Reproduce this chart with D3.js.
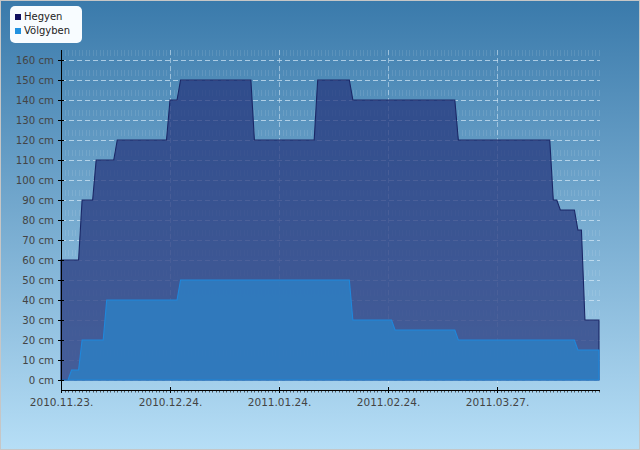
<!DOCTYPE html>
<html lang="hu">
<head>
<meta charset="utf-8">
<title>Hóvastagság</title>
<script src="https://cdn.jsdelivr.net/npm/d3@7"></script>
<style>
  body { margin: 0; }
  text { font-family: "DejaVu Sans", sans-serif; }
</style>
</head>
<body>
<div id="chart"></div>
<script>
// snow depth, cm - corner points
var hegyenDates = ["2010-11-23","2010-11-28","2010-11-29","2010-12-02","2010-12-03","2010-12-08","2010-12-09",
  "2010-12-23","2010-12-24","2010-12-26","2010-12-27","2011-01-16","2011-01-17","2011-02-03","2011-02-04",
  "2011-02-13","2011-02-14","2011-03-15","2011-03-16","2011-04-11","2011-04-12","2011-04-13","2011-04-14",
  "2011-04-18","2011-04-19","2011-04-20","2011-04-21","2011-04-25"]
var hegyenValues = [60,60,90,90,110,110,120,120,140,140,150,150,120,120,150,150,140,140,120,120,90,90,85,85,75,75,30,30]

var volgybenDates = ["2010-11-23","2010-11-25","2010-11-26","2010-11-28","2010-11-29","2010-12-05","2010-12-06",
  "2010-12-26","2010-12-27","2011-02-13","2011-02-14","2011-02-25","2011-02-26","2011-03-15","2011-03-16",
  "2011-04-18","2011-04-19","2011-04-25"]
var volgybenValues = [0,0,5,5,20,20,40,40,50,50,30,30,25,25,20,20,15,15]

var xTickDates = ["2010-11-23","2010-12-24","2011-01-24","2011-02-24","2011-03-27"]
var yTicks = [0,10,20,30,40,50,60,70,80,90,100,110,120,130,140,150,160]
var seriesNames = ["Hegyen","Völgyben"]

var parse = d3.utcParse("%Y-%m-%d")
var W = 640, H = 450

function toPoints(dates, values){
  return dates.map(function(d,i){ return {date: parse(d), value: values[i]} })
}
var hegyen = toPoints(hegyenDates, hegyenValues)
var volgyben = toPoints(volgybenDates, volgybenValues)

var x = d3.scaleUtc().domain([parse("2010-11-23"), parse("2011-04-25")]).range([61, 599])
var y = d3.scaleLinear().domain([-5, 165]).range([390, 50])

var svg = d3.select("#chart").append("svg").attr("width", W).attr("height", H)

var grad = svg.append("defs").append("linearGradient")
  .attr("id","bg").attr("x1",0).attr("y1",0).attr("x2",0).attr("y2",1)
grad.append("stop").attr("offset","0%").attr("stop-color","#3a7aab")
grad.append("stop").attr("offset","100%").attr("stop-color","#b6def6")

svg.append("rect").attr("x",0.5).attr("y",0.5).attr("width",W-1).attr("height",H-1)
  .attr("fill","url(#bg)").attr("stroke","#c6c6c6")

// faint daily grid
var days = d3.utcDay.range(x.domain()[0], d3.utcDay.offset(x.domain()[1],1))
svg.append("g").selectAll("line").data(days).enter().append("line")
  .attr("x1",function(d){ return Math.round(x(d))+0.5 }).attr("x2",function(d){ return Math.round(x(d))+0.5 })
  .attr("y1",50).attr("y2",396)
  .attr("stroke","#ffffff").attr("stroke-opacity",0.1)
  .style("stroke-dasharray","6,14")

// dashed grid
svg.append("g").selectAll("line").data(yTicks).enter().append("line")
  .attr("x1",61).attr("x2",600)
  .attr("y1",function(d){ return Math.round(y(d))+0.5 }).attr("y2",function(d){ return Math.round(y(d))+0.5 })
  .attr("stroke","#d4e8f6").attr("stroke-opacity",0.7)
  .style("stroke-dasharray","5,3")

svg.append("g").selectAll("line").data(xTickDates.slice(1)).enter().append("line")
  .attr("x1",function(d){ return Math.round(x(parse(d)))+0.5 }).attr("x2",function(d){ return Math.round(x(parse(d)))+0.5 })
  .attr("y1",50).attr("y2",390)
  .attr("stroke","#d4e8f6").attr("stroke-opacity",0.55)
  .style("stroke-dasharray","5,3")

var area = d3.area()
  .x(function(d){ return x(d.date) })
  .y0(y(0))
  .y1(function(d){ return y(d.value) })

svg.append("path").datum(hegyen).attr("d",area)
  .attr("fill","#24367c").attr("fill-opacity",0.74)
  .attr("stroke","#1a2766").attr("stroke-width",1.1)

svg.append("path").datum(volgyben).attr("d",area)
  .attr("fill","#2f7cc0").attr("fill-opacity",0.9)
  .attr("stroke","#1f88dc").attr("stroke-width",1.1)

// axes
var yAxis = d3.axisLeft(y).tickValues(yTicks).tickSizeInner(3).tickSizeOuter(0).tickPadding(4)
  .tickFormat(function(d){ return d + " cm" })
var gy = svg.append("g").attr("transform","translate(61,0)").call(yAxis)
gy.select(".domain").remove()
gy.selectAll(".tick line").attr("x1",-3).attr("x2",3).attr("stroke","#000")
gy.selectAll("text").attr("fill","#444").style("font-size","10.2px").style("font-family","DejaVu Sans")
svg.append("line").attr("x1",61.5).attr("x2",61.5).attr("y1",50).attr("y2",393).attr("stroke","#000")

// minor day ticks
svg.append("g").selectAll("line").data(days).enter().append("line")
  .attr("x1",function(d){ return Math.round(x(d))+0.5 }).attr("x2",function(d){ return Math.round(x(d))+0.5 })
  .attr("y1",390).attr("y2",392.5).attr("stroke","#333").attr("stroke-width",0.8)

var xAxis = d3.axisBottom(x).tickValues(xTickDates.map(parse)).tickSizeInner(3).tickSizeOuter(0).tickPadding(6)
  .tickFormat(d3.utcFormat("%Y.%m.%d."))
var gx = svg.append("g").attr("transform","translate(0,390)").call(xAxis)
gx.select(".domain").remove()
gx.selectAll(".tick line").attr("y1",-3).attr("y2",3).attr("stroke","#000")
gx.selectAll("text").attr("fill","#444").style("font-size","10.5px").style("font-family","DejaVu Sans")
svg.append("line").attr("x1",61).attr("x2",600).attr("y1",390.5).attr("y2",390.5).attr("stroke","#000")

// legend
var legend = svg.append("g")
legend.append("rect").attr("x",10).attr("y",6).attr("width",72).attr("height",37).attr("rx",5)
  .attr("fill","#f8fcff")
var legendColors = ["#10105e","#2192e0"]
seriesNames.forEach(function(name,i){
  legend.append("rect").attr("x",15).attr("y",14+i*14).attr("width",6).attr("height",6).attr("fill",legendColors[i])
  legend.append("text").attr("x",24).attr("y",20+i*14).text(name)
    .attr("fill","#222").style("font-size","10px")
})
</script>
</body>
</html>
